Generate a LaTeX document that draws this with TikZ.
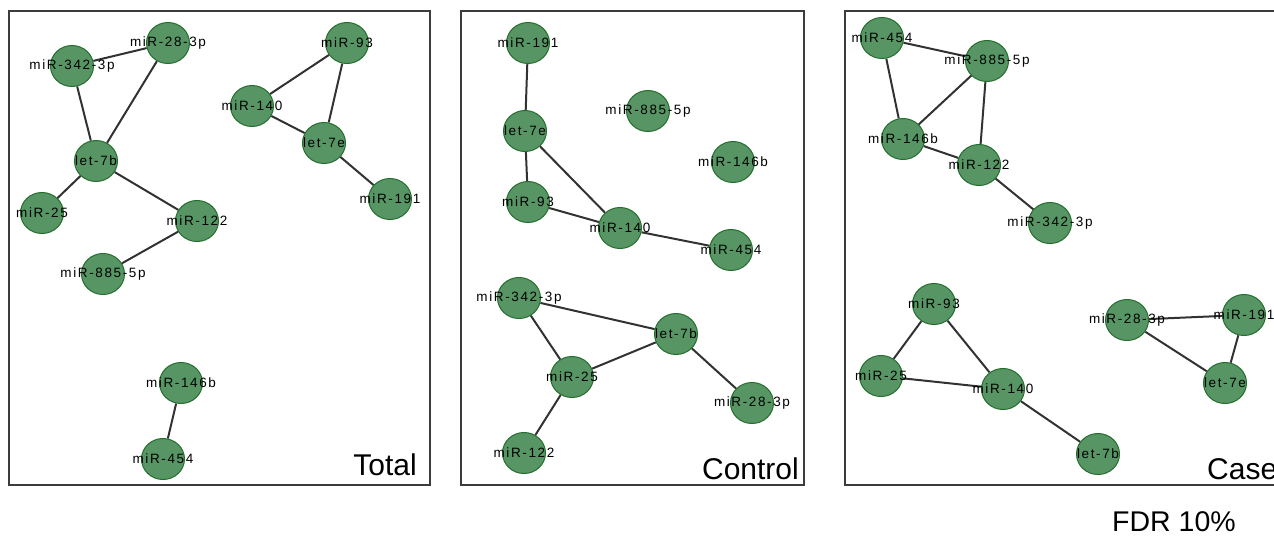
\documentclass[tikz,border=0pt]{standalone}
\usepackage{fontspec}
\setmainfont{Liberation Sans}
\newfontfamily\lblfont[LetterSpace=12]{Liberation Sans}
\usetikzlibrary{shapes.geometric,backgrounds}
\definecolor{nodefill}{RGB}{87,150,100}
\definecolor{nodeedge}{RGB}{35,110,45}
\definecolor{edgecol}{RGB}{50,50,50}
\definecolor{boxcol}{RGB}{60,60,60}
\tikzset{
  bub/.style={ellipse,draw=nodeedge,fill=nodefill,line width=1pt,minimum width=43pt,minimum height=41pt,inner sep=0pt},
  lbl/.style={inner sep=0pt,font=\lblfont\fontsize{13.5}{14}\selectfont,text=black},
  link/.style={draw=edgecol,line width=2pt},
  panel/.style={draw=boxcol,line width=1.2pt},
  ttl/.style={inner sep=0pt,font=\fontsize{30}{32}\selectfont}
}
\newcommand{\mnode}[3]{\node[bub] (#1) at (#2) {}; \node[lbl] (#1-t) at (#1) {#3};}
\begin{document}
\begin{tikzpicture}[x=1pt,y=-1pt]
\useasboundingbox (0,0) rectangle (1274,536);
\clip (0,0) rectangle (1274,536);
% panels
\draw[panel] (9,11) rectangle (430,485);
\draw[panel] (461,11) rectangle (804,485);
\draw[panel] (845,11) rectangle (1300,485);
% Total
\mnode{T28}{168,43}{miR-28-3p}
\mnode{T342}{72,66}{miR-342-3p}
\mnode{T7b}{96,161}{let-7b}
\mnode{T25}{42,213}{miR-25}
\mnode{T122}{197,221}{miR-122}
\mnode{T885}{103,274}{miR-885-5p}
\mnode{T146}{181,383}{miR-146b}
\mnode{T454}{163,459}{miR-454}
\mnode{T93}{347,43}{miR-93}
\mnode{T140}{252,106}{miR-140}
\mnode{T7e}{324,143}{let-7e}
\mnode{T191}{390,199}{miR-191}
% Control
\mnode{C191}{528,43}{miR-191}
\mnode{C7e}{525,131}{let-7e}
\mnode{C93}{528,202}{miR-93}
\mnode{C140}{620,228}{miR-140}
\mnode{C454}{731,250}{miR-454}
\mnode{C885}{648,111}{miR-885-5p}
\mnode{C146}{733,162}{miR-146b}
\mnode{C342}{519,298}{miR-342-3p}
\mnode{C7b}{676,334}{let-7b}
\mnode{C25}{572,377}{miR-25}
\mnode{C28}{752,403}{miR-28-3p}
\mnode{C122}{524,453}{miR-122}
% Case
\mnode{K454}{882,38}{miR-454}
\mnode{K885}{987,61}{miR-885-5p}
\mnode{K146}{903,139}{miR-146b}
\mnode{K122}{979,165}{miR-122}
\mnode{K342}{1050,223}{miR-342-3p}
\mnode{K93}{934,304}{miR-93}
\mnode{K25}{881,376}{miR-25}
\mnode{K140}{1003,389}{miR-140}
\mnode{K7b}{1098,454}{let-7b}
\mnode{K28}{1127,320}{miR-28-3p}
\mnode{K191}{1244,315}{miR-191}
\mnode{K7e}{1225,383}{let-7e}
\begin{scope}[on background layer]
\draw[link] (T342) -- (T28);
\draw[link] (T342) -- (T7b);
\draw[link] (T28) -- (T7b);
\draw[link] (T7b) -- (T25);
\draw[link] (T7b) -- (T122);
\draw[link] (T122) -- (T885);
\draw[link] (T146) -- (T454);
\draw[link] (T93) -- (T140);
\draw[link] (T93) -- (T7e);
\draw[link] (T140) -- (T7e);
\draw[link] (T7e) -- (T191);
\draw[link] (C191) -- (C7e);
\draw[link] (C7e) -- (C93);
\draw[link] (C7e) -- (C140);
\draw[link] (C93) -- (C140);
\draw[link] (C140) -- (C454);
\draw[link] (C342) -- (C7b);
\draw[link] (C342) -- (C25);
\draw[link] (C25) -- (C7b);
\draw[link] (C7b) -- (C28);
\draw[link] (C25) -- (C122);
\draw[link] (K454) -- (K885);
\draw[link] (K454) -- (K146);
\draw[link] (K146) -- (K885);
\draw[link] (K885) -- (K122);
\draw[link] (K146) -- (K122);
\draw[link] (K122) -- (K342);
\draw[link] (K93) -- (K25);
\draw[link] (K93) -- (K140);
\draw[link] (K25) -- (K140);
\draw[link] (K140) -- (K7b);
\draw[link] (K28) -- (K191);
\draw[link] (K28) -- (K7e);
\draw[link] (K191) -- (K7e);
\end{scope}
% titles
\node[ttl,anchor=base east] (ttotal) at (417,475) {Total};
\node[ttl,anchor=base east] (tcontrol) at (799,479) {Control};
\node[ttl,anchor=base west] (tcase) at (1207,479) {Case};
\node[ttl,anchor=base west,font=\fontsize{28.5}{30}\selectfont] (tfdr) at (1112,531) {FDR 10\%};
\end{tikzpicture}
\end{document}
